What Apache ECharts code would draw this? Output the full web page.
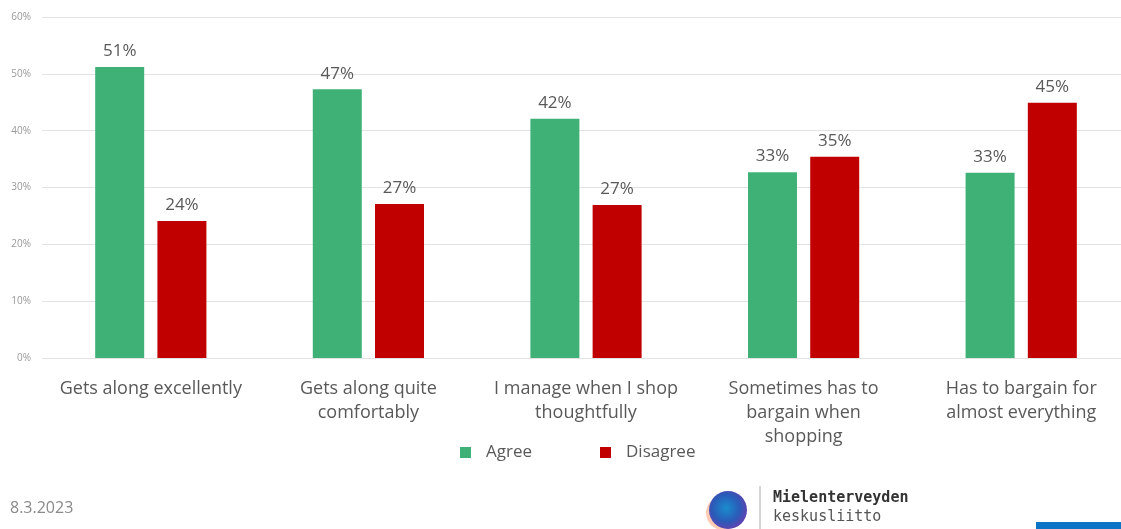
<!DOCTYPE html>
<html><head><meta charset="utf-8">
<script src="https://cdn.jsdelivr.net/npm/echarts@6/dist/echarts.min.js"></script>
<style>html,body{margin:0;padding:0;background:#fff;overflow:hidden}#c{width:1130px;height:529px}</style>
</head><body><div id="c"></div>
<script>
const categories = ["Gets along excellently", "Gets along quite\ncomfortably", "I manage when I shop\nthoughtfully", "Sometimes has to\nbargain when\nshopping", "Has to bargain for\nalmost everything"];
const agree = [51.2, 47.3, 42.1, 32.7, 32.6];
const disagree = [24.1, 27.1, 26.9, 35.4, 44.9];
const seriesNames = ["Agree", "Disagree"];
const footerDate = "8.3.2023";

const chart = echarts.init(document.getElementById('c'), null, {renderer: 'canvas'});
const labelStyle = {show: true, position: 'top', distance: 7, fontSize: 17, color: '#595959', fontFamily: 'Open Sans, sans-serif', formatter: p => Math.round(p.value) + '%'};
chart.setOption({
  animation: false,
  grid: {left: 42, right: 0, top: 17, bottom: 171, containLabel: false},
  legend: {
    data: seriesNames, left: 455, top: 439, itemWidth: 11, itemHeight: 11, itemGap: 68,
    icon: 'rect',
    textStyle: {fontSize: 17, color: '#595959', fontFamily: 'Open Sans, sans-serif', padding: [0, 0, 0, 10]}
  },
  xAxis: {
    type: 'category', data: categories,
    axisLine: {show: false}, axisTick: {show: false},
    axisLabel: {interval: 0, margin: 19, fontSize: 18, lineHeight: 24, color: '#595959', fontFamily: 'Open Sans, sans-serif'}
  },
  yAxis: {
    type: 'value', min: 0, max: 60, interval: 10,
    axisLabel: {formatter: '{value}%', fontSize: 10, color: '#999', margin: 11, fontFamily: 'Open Sans, sans-serif'},
    splitLine: {lineStyle: {color: '#e3e3e3', width: 1}},
    axisLine: {show: false}, axisTick: {show: false}
  },
  series: [
    {name: seriesNames[0], type: 'bar', data: agree, barWidth: 49, barGap: '27%', itemStyle: {color: '#3FB176'}, label: labelStyle},
    {name: seriesNames[1], type: 'bar', data: disagree, barWidth: 49, itemStyle: {color: '#C00000'}, label: labelStyle}
  ],
  graphic: [
    {type: 'text', left: 10, top: 500, style: {text: footerDate, fontSize: 16, fill: '#8a8a8a', fontFamily: 'Open Sans, sans-serif'}},
    {type: 'circle', shape: {cx: 723, cy: 513, r: 17}, style: {fill: 'rgba(255,140,90,0.45)'}, z: 1},
    {type: 'circle', shape: {cx: 728, cy: 510, r: 19}, style: {fill: {type: 'radial', x: 0.45, y: 0.45, r: 0.6, colorStops: [{offset: 0, color: '#1a8ccc'}, {offset: 0.6, color: '#2a5bb8'}, {offset: 1, color: '#6a3fb0'}]}}, z: 2},
    {type: 'line', shape: {x1: 760, y1: 486, x2: 760, y2: 529}, style: {stroke: '#aaa', lineWidth: 1}},
    {type: 'text', left: 773, top: 491, style: {text: 'Mielenterveyden', fontSize: 15, fontWeight: 'bold', fill: '#333', fontFamily: 'DejaVu Sans Mono, monospace'}},
    {type: 'text', left: 773, top: 510, style: {text: 'keskusliitto', fontSize: 15, fill: '#555', fontFamily: 'DejaVu Sans Mono, monospace'}},
    {type: 'rect', shape: {x: 1036, y: 522, width: 94, height: 7}, style: {fill: '#0b74c4'}}
  ]
});
</script></body></html>
